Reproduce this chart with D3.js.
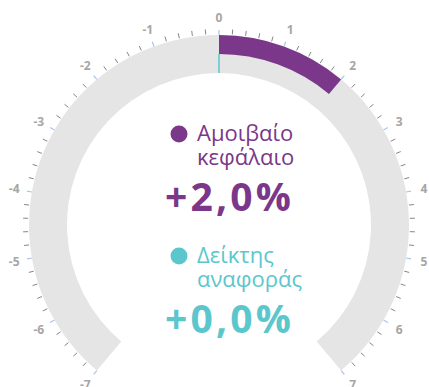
<!DOCTYPE html>
<html>
<head>
<meta charset="utf-8">
<script src="https://cdn.jsdelivr.net/npm/d3@7"></script>
<style>
  html, body { margin: 0; padding: 0; background: #fff; }
  svg { display: block; }
</style>
</head>
<body>
<svg id="chart" width="429" height="387"></svg>
<script>
// Gauge range and tick labels
const gaugeDomain = [-7, 7];
const tickLabels = [-7, -6, -5, -4, -3, -2, -1, 0, 1, 2, 3, 4, 5, 6, 7];
const minorStep = 0.2;

// Series: fund vs. benchmark
const seriesNames = [["Αμοιβαίο", "κεφάλαιο"], ["Δείκτης", "αναφοράς"]];
const seriesValues = [2.0, 0.0];
const seriesColors = ["#7b3789", "#5bc7cd"];

const svg = d3.select("#chart");
const cx = 219, cy = 225;
const rOuter = 190, rMid = 171, rInner = 152;

const angle = d3.scaleLinear().domain(gaugeDomain).range([-140, 140].map(d => d * Math.PI / 180));

const g = svg.append("g").attr("transform", `translate(${cx},${cy})`);

// Background band
g.append("path")
  .attr("d", d3.arc()({ innerRadius: rInner, outerRadius: rOuter, startAngle: angle(gaugeDomain[0]), endAngle: angle(gaugeDomain[1]) }))
  .attr("fill", "#e5e5e5");

// Fund arc (outer ring)
g.append("path")
  .attr("d", d3.arc()({ innerRadius: rMid, outerRadius: rOuter, startAngle: angle(0), endAngle: angle(seriesValues[0]) }))
  .attr("fill", seriesColors[0]);

// Benchmark arc (inner ring)
g.append("path")
  .attr("d", d3.arc()({ innerRadius: rInner, outerRadius: rMid, startAngle: angle(0), endAngle: angle(seriesValues[1]) }))
  .attr("fill", seriesColors[1]);
// marker at the benchmark value so a zero-length arc stays visible
const ab = angle(seriesValues[1]);
g.append("line")
  .attr("x1", rInner * Math.sin(ab)).attr("y1", -rInner * Math.cos(ab))
  .attr("x2", rMid * Math.sin(ab)).attr("y2", -rMid * Math.cos(ab))
  .attr("stroke", seriesColors[1]).attr("stroke-width", 1.5);

// Minor ticks
const minorTicks = d3.range(gaugeDomain[0], gaugeDomain[1] + 1e-9, minorStep)
  .filter(v => Math.abs(v - Math.round(v)) > 1e-6);
g.selectAll("line.minor").data(minorTicks).join("line")
  .attr("class", "minor")
  .attr("x1", d => (rOuter + 1) * Math.sin(angle(d)))
  .attr("y1", d => -(rOuter + 1) * Math.cos(angle(d)))
  .attr("x2", d => (rOuter + 6) * Math.sin(angle(d)))
  .attr("y2", d => -(rOuter + 6) * Math.cos(angle(d)))
  .attr("stroke", "#666").attr("stroke-width", 0.8);

// Major ticks
g.selectAll("line.major").data(tickLabels).join("line")
  .attr("class", "major")
  .attr("x1", d => (rOuter + 0) * Math.sin(angle(d)))
  .attr("y1", d => -(rOuter + 0) * Math.cos(angle(d)))
  .attr("x2", d => (rOuter + 5) * Math.sin(angle(d)))
  .attr("y2", d => -(rOuter + 5) * Math.cos(angle(d)))
  .attr("stroke", "#a9c3ea").attr("stroke-width", 1.2);

// Tick labels
const rLabel = 208;
g.selectAll("text.tick").data(tickLabels).join("text")
  .attr("class", "tick")
  .attr("x", d => rLabel * Math.sin(angle(d)))
  .attr("y", d => -rLabel * Math.cos(angle(d)))
  .attr("text-anchor", "middle")
  .attr("dominant-baseline", "central")
  .attr("font-family", "Open Sans, sans-serif")
  .attr("font-weight", "bold")
  .attr("font-size", 12)
  .attr("fill", "#a6a6a6")
  .text(d => String(d));

// Central legend with values
const fmt = v => (v >= 0 ? "+" : "") + v.toFixed(1).replace(".", ",") + "%";
const blocks = [{ y: 141 }, { y: 263 }];
seriesNames.forEach((lines, i) => {
  const by = blocks[i].y;
  svg.append("circle").attr("cx", 179).attr("cy", by - 7).attr("r", 8.5).attr("fill", seriesColors[i]);
  lines.forEach((t, j) => {
    svg.append("text")
      .attr("x", 197).attr("y", by + j * 24)
      .attr("font-family", "Open Sans, sans-serif")
      .attr("font-size", 22)
      .attr("fill", seriesColors[i])
      .text(t);
  });
  svg.append("text")
    .attr("x", 165).attr("y", by + 70)
    .attr("font-family", "Open Sans, sans-serif")
    .attr("font-weight", "bold")
    .attr("font-size", 39)
    .attr("letter-spacing", 3.2)
    .attr("fill", seriesColors[i])
    .text(fmt(seriesValues[i]));
});
</script>
</body>
</html>
